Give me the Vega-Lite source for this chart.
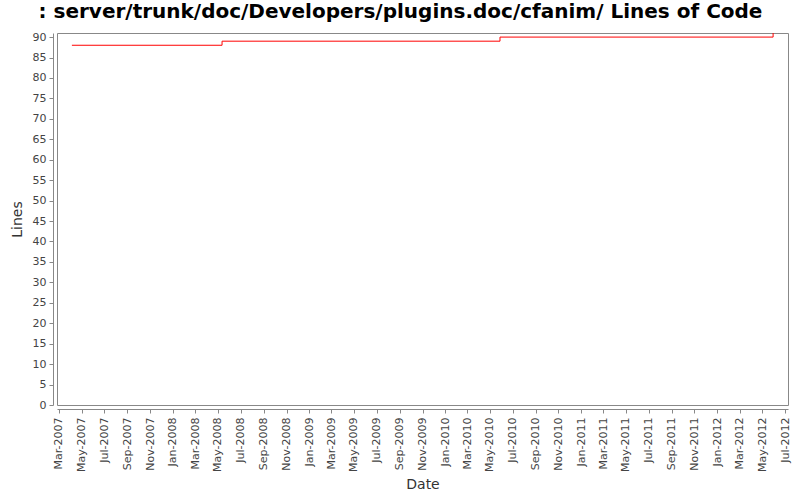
{
  "$schema": "https://vega.github.io/schema/vega-lite/v6.json",
  "width": 731,
  "height": 372,
  "autosize": {"type": "none"},
  "padding": {"left": 57, "top": 33, "right": 12, "bottom": 95},
  "background": "white",
  "title": {
    "text": ": server/trunk/doc/Developers/plugins.doc/cfanim/ Lines of Code",
    "font": "DejaVu Sans",
    "fontSize": 20,
    "fontWeight": "bold",
    "color": "#000000",
    "anchor": "middle",
    "dx": -22,
    "offset": 9
  },
  "config": {
    "view": {"stroke": "#888888", "strokeWidth": 1},
    "axis": {
      "labelFont": "DejaVu Sans",
      "labelFontSize": 11,
      "labelColor": "#444444",
      "titleFont": "DejaVu Sans",
      "titleFontSize": 14,
      "titleFontWeight": "normal",
      "titleColor": "#333333",
      "domainColor": "#888888",
      "tickColor": "#888888",
      "tickSize": 4,
      "grid": false,
      "offset": 4
    }
  },
  "data": {
    "values": [
      {"date": "2007-04-05", "lines": 88},
      {"date": "2008-05-12", "lines": 89},
      {"date": "2010-05-28", "lines": 90},
      {"date": "2012-05-30", "lines": 91}
    ]
  },
  "mark": {"type": "line", "interpolate": "step-after", "color": "#ff0000", "strokeWidth": 1, "clip": true},
  "encoding": {
    "x": {
      "field": "date",
      "type": "temporal",
      "scale": {"type": "utc", "domain": ["2007-02-24", "2012-07-09"]},
      "axis": {
        "title": "Date",
        "format": "%b-%Y",
        "labelAngle": -90,
        "tickCount": {"interval": "month", "step": 2},
        "labelPadding": 4,
        "titlePadding": 6
      }
    },
    "y": {
      "field": "lines",
      "type": "quantitative",
      "scale": {"domain": [0, 91], "nice": false},
      "axis": {
        "title": "Lines",
        "values": [0,5,10,15,20,25,30,35,40,45,50,55,60,65,70,75,80,85,90],
        "labelPadding": 3,
        "titlePadding": 8
      }
    }
  }
}
